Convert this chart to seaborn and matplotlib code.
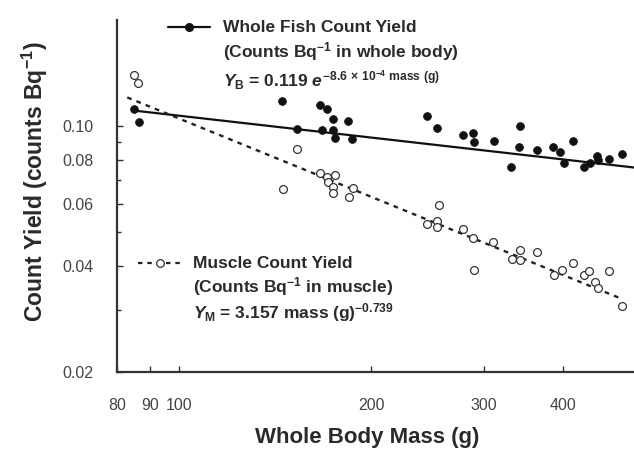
import numpy as np
import pandas as pd
import matplotlib
matplotlib.use("Agg")
import matplotlib.pyplot as plt
import seaborn as sns
from matplotlib.lines import Line2D
from matplotlib.ticker import FixedLocator, FixedFormatter, NullFormatter

# ---------------- data ----------------
whole_mass = [85.0, 86.6, 145.2, 152.9, 166.3, 170.8, 174.5, 183.9, 167.5, 174.5,
              175.4, 186.7, 244.5, 253.5, 279.0, 288.6, 290.0, 311.0, 341.5, 340.3,
              331.1, 363.7, 385.2, 395.5, 414.1, 400.3, 430.2, 439.6, 451.5, 453.2,
              470.9, 494.2]
whole_yield = [0.1115, 0.1024, 0.1177, 0.0979, 0.1147, 0.1117, 0.1047, 0.1033, 0.0974, 0.0974,
               0.0923, 0.0921, 0.1067, 0.0989, 0.0941, 0.0957, 0.0899, 0.0909, 0.1000, 0.0870,
               0.0767, 0.0855, 0.0870, 0.0846, 0.0909, 0.0784, 0.0767, 0.0784, 0.0824, 0.0801,
               0.0806, 0.0833]

muscle_mass = [85.0, 86.4, 145.4, 153.1, 166.3, 170.4, 175.3, 171.5, 174.3, 174.6,
               187.4, 184.4, 244.8, 253.8, 253.8, 255.0, 279.0, 288.4, 290.0, 310.6,
               342.3, 332.3, 342.3, 363.8, 386.1, 398.0, 414.1, 430.2, 439.1, 470.9,
               448.7, 452.5, 494.8]
muscle_yield = [0.1394, 0.1321, 0.0664, 0.0861, 0.0734, 0.0715, 0.0724, 0.0692, 0.0669, 0.0644,
                0.0665, 0.0627, 0.0526, 0.0537, 0.0516, 0.0597, 0.0509, 0.0479, 0.0389, 0.0468,
                0.0445, 0.0420, 0.0417, 0.0438, 0.0378, 0.0389, 0.0409, 0.0378, 0.0388, 0.0388,
                0.0360, 0.0347, 0.0307]

# fitted models printed on the chart
whole_coef, whole_rate = 0.119, -8.6e-4        # Y_B = 0.119 e^(-8.6e-4 mass)
muscle_coef, muscle_exp = 3.157, -0.739        # Y_M = 3.157 mass^-0.739
whole_fit_span = [85, 520]     # drawn in the figure as a straight segment between its ends
muscle_fit_span = (83, 495)

x_ticks = [80, 90, 100, 200, 300, 400]
x_tick_labels = ["80", "90", "100", "200", "300", "400"]
y_ticks = [0.02, 0.04, 0.06, 0.08, 0.10]
y_tick_labels = ["0.02", "0.04", "0.06", "0.08", "0.10"]
y_minor_ticks = [0.03, 0.05, 0.07, 0.09]

# ---------------- style ----------------
sns.set_theme(style="ticks")
plt.rcParams["font.family"] = ["Liberation Sans", "DejaVu Sans"]
plt.rcParams["mathtext.fontset"] = "custom"
plt.rcParams["mathtext.rm"] = "Liberation Sans:bold"
plt.rcParams["mathtext.it"] = "Liberation Sans:italic:bold"
plt.rcParams["mathtext.bf"] = "Liberation Sans:bold"

TXT = "#2a2a2a"
W, H = 634, 453
def fx(px):
    return px / W
def fy(py):
    return 1 - py / H

fig = plt.figure(figsize=(W / 100, H / 100), dpi=100)
ax = fig.add_axes([fx(117), fy(372), fx(634) - fx(117), fy(20) - fy(372)])

whole_df = pd.DataFrame({"mass": whole_mass, "yield": whole_yield})
muscle_df = pd.DataFrame({"mass": muscle_mass, "yield": muscle_yield})

wm = np.array(whole_fit_span, dtype=float)
mm = np.geomspace(*muscle_fit_span, 200)
whole_fit = pd.DataFrame({"mass": wm, "yield": whole_coef * np.exp(whole_rate * wm)})
muscle_fit = pd.DataFrame({"mass": mm, "yield": muscle_coef * mm ** muscle_exp})

sns.lineplot(data=whole_fit, x="mass", y="yield", ax=ax, color="#111111", lw=1.6)
sns.lineplot(data=muscle_fit, x="mass", y="yield", ax=ax, color="#222222", lw=1.7,
             dashes=False, linestyle=(0, (2.0, 2.2)))
sns.scatterplot(data=whole_df, x="mass", y="yield", ax=ax, color="#111111",
                s=32, edgecolor="#111111", linewidth=0.5, zorder=3)
sns.scatterplot(data=muscle_df, x="mass", y="yield", ax=ax, facecolor="white",
                edgecolor="#333333", s=32, linewidth=0.9, zorder=3)

ax.set_xscale("log")
ax.set_yscale("log")
ax.set_xlim(80, 516)
ax.set_ylim(0.02, 0.2)
ax.set_xlabel("")
ax.set_ylabel("")

ax.xaxis.set_major_locator(FixedLocator(x_ticks))
ax.xaxis.set_major_formatter(FixedFormatter(x_tick_labels))
ax.xaxis.set_minor_locator(FixedLocator([]))
ax.yaxis.set_major_locator(FixedLocator(y_ticks))
ax.yaxis.set_major_formatter(FixedFormatter(y_tick_labels))
ax.yaxis.set_minor_locator(FixedLocator(y_minor_ticks))
ax.yaxis.set_minor_formatter(NullFormatter())

ax.tick_params(axis="both", which="both", direction="in", color="#333333", width=1.0,
               labelsize=11.5, labelcolor="#444444")
ax.tick_params(axis="both", which="major", length=4)
ax.tick_params(axis="both", which="minor", length=3)
ax.tick_params(axis="y", which="major", pad=17)
ax.tick_params(axis="x", which="major", pad=19)

sns.despine(ax=ax)
for s in ("left", "bottom"):
    ax.spines[s].set_color("#333333")
    ax.spines[s].set_linewidth(1.6)

# axis titles
fig.text(fx(367), fy(438), "Whole Body Mass (g)", ha="center", va="center",
         fontsize=16, fontweight="bold", color=TXT)
fig.text(fx(35), fy(182), "Count Yield (counts Bq$^{-1}$)", ha="center", va="center",
         rotation=90, fontsize=16.5, fontweight="bold", color=TXT)

# legend: whole fish
fig.add_artist(Line2D([fx(168), fx(210)], [fy(27), fy(27)], color="#111111", lw=1.6))
fig.add_artist(Line2D([fx(189)], [fy(27)], marker="o", ms=5.5, color="#111111"))
fig.text(fx(223), fy(27), "Whole Fish Count Yield", ha="left", va="center",
         fontsize=12.5, fontweight="bold", color=TXT)
fig.text(fx(223), fy(52), "(Counts Bq$^{-1}$ in whole body)", ha="left", va="center",
         fontsize=12.5, fontweight="bold", color=TXT)
fig.text(fx(223), fy(80),
         r"$Y_{\rm B}$ = 0.119 $e^{-8.6\,\times\,10^{-4}\ {\rm mass\ (g)}}$",
         ha="left", va="center", fontsize=12.5, fontweight="bold", color=TXT)

# legend: muscle
fig.add_artist(Line2D([fx(138), fx(183)], [fy(263), fy(263)], color="#222222", lw=1.6,
                      linestyle=(0, (2.0, 2.2))))
fig.add_artist(Line2D([fx(160)], [fy(263)], marker="o", ms=5.5, markerfacecolor="white",
                      markeredgecolor="#333333", markeredgewidth=0.9, lw=0))
fig.text(fx(193), fy(263), "Muscle Count Yield", ha="left", va="center",
         fontsize=12.5, fontweight="bold", color=TXT)
fig.text(fx(193), fy(287), "(Counts Bq$^{-1}$ in muscle)", ha="left", va="center",
         fontsize=12.5, fontweight="bold", color=TXT)
fig.text(fx(193), fy(313), r"$Y_{\rm M}$ = 3.157 mass (g)$^{-0.739}$",
         ha="left", va="center", fontsize=12.5, fontweight="bold", color=TXT)

fig.savefig("out.png", dpi=100)
